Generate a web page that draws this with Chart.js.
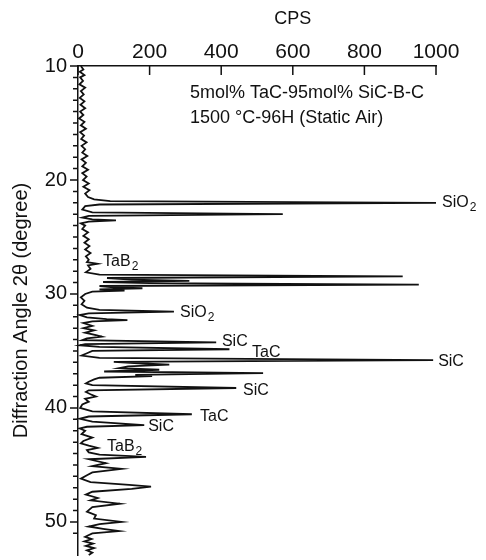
<!DOCTYPE html>
<html>
<head>
<meta charset="utf-8">
<script src="https://cdn.jsdelivr.net/npm/chart.js@4/dist/chart.umd.min.js"></script>
<style>
  html, body { margin: 0; padding: 0; background: #fff; }
  canvas { display: block; }
</style>
</head>
<body>
<canvas id="grafico" width="486" height="560"></canvas>
<script>
// Difractograma girado: 2θ en vertical (hacia abajo), CPS en horizontal.

// Ángulo 2θ (grados) de cada punto del trazo, de arriba abajo.
const angulos = [
  10.0, 10.3, 10.5, 10.8, 11.0, 11.3, 11.6, 11.9, 12.2, 12.5,
  12.8, 13.1, 13.4, 13.7, 14.0, 14.3, 14.6, 14.9, 15.2, 15.5,
  15.8, 16.1, 16.4, 16.7, 17.0, 17.3, 17.6, 17.9, 18.2, 18.5,
  18.8, 19.1, 19.4, 19.7, 20.0, 20.3, 20.6, 20.9, 21.2, 21.5,
  21.7, 21.85, 22.0, 22.15, 22.3, 22.6, 22.85, 23.0, 23.15, 23.3,
  23.45, 23.55, 23.65, 23.8, 24.0, 24.3, 24.6, 24.9, 25.2, 25.5,
  25.8, 26.1, 26.4, 26.7, 27.0, 27.2, 27.35, 27.5, 27.8, 28.1,
  28.3, 28.45, 28.6, 28.75, 28.85, 28.95, 29.05, 29.18, 29.3, 29.42,
  29.5, 29.6, 29.7, 29.8, 30.0, 30.3, 30.6, 30.9, 31.2, 31.4,
  31.55, 31.7, 31.85, 32.05, 32.2, 32.3, 32.4, 32.55, 32.8, 33.0,
  33.2, 33.4, 33.6, 33.75, 33.9, 34.05, 34.24, 34.4, 34.5, 34.65,
  34.85, 35.0, 35.2, 35.4, 35.6, 35.8, 35.95, 36.1, 36.2, 36.35,
  36.5, 36.65, 36.8, 36.95, 37.1, 37.2, 37.35, 37.5, 37.7, 37.85,
  38.0, 38.25, 38.45, 38.6, 38.8, 39.0, 39.2, 39.45, 39.7, 40.0,
  40.3, 40.55, 40.75, 40.95, 41.2, 41.5, 41.65, 41.8, 42.0, 42.3,
  42.6, 42.9, 43.1, 43.3, 43.5, 43.7, 43.9, 44.1, 44.3, 44.5,
  44.85, 45.1, 45.35, 45.65, 45.9, 46.2, 46.5, 46.75, 46.9, 47.1,
  47.35, 47.6, 47.9, 48.1, 48.4, 48.7, 49.1, 49.4, 49.7, 50.0,
  50.2, 50.4, 50.6, 50.8, 51.0, 51.3, 51.5, 51.7, 51.9, 52.1,
  52.3, 52.5, 52.7, 52.9,
];

// Intensidad (CPS) en cada ángulo.
const cps = [
  8, 15, 5, 18, 6, 14, 4, 20, 8, 16,
  5, 18, 7, 20, 6, 15, 3, 18, 8, 22,
  6, 17, 9, 24, 10, 20, 12, 26, 10, 22,
  12, 28, 12, 24, 14, 30, 15, 32, 20, 28,
  45, 90, 1000, 60, 20, 12, 40, 572, 30, 12,
  40, 106, 30, 8, 20, 12, 28, 15, 30, 18,
  32, 20, 35, 22, 30, 25, 55, 28, 35, 22,
  60, 907, 81, 150, 311, 70, 200, 952, 60, 100,
  180, 60, 130, 40, 20, 8, 18, 10, 25, 60,
  268, 30, 5, 25, 80, 138, 40, 15, 40, 15,
  45, 20, 50, 67, 25, 12, 386, 20, 5, 60,
  423, 40, 25, 10, 60, 992, 100, 180, 255, 140,
  115, 227, 73, 517, 160, 207, 60, 45, 30, 22,
  40, 442, 30, 22, 35, 50, 20, 30, 12, 6,
  40, 318, 30, 5, 40, 185, 25, 5, 20, 10,
  40, 15, 8, 30, 55, 25, 30, 60, 190, 30,
  78, 40, 122, 40, 25, 8, 35, 143, 204, 150,
  40, 22, 55, 35, 117, 40, 25, 50, 45, 122,
  60, 30, 70, 115, 40, 20, 38, 18, 42, 22,
  45, 25, 40, 30,
];

// Marcas de los ejes.
const ticksCps = [0, 200, 400, 600, 800, 1000];
const ticksAngulo = [10, 20, 30, 40, 50];

// Fases identificadas: texto, subíndice y dónde va la etiqueta (CPS, 2θ).
const fasesTexto = ["SiO", "TaB", "SiO", "SiC", "TaC", "SiC", "SiC", "TaC", "SiC", "TaB"];
const fasesSub = ["2", "2", "2", "", "", "", "", "", "", "2"];
const fasesCps = [1017, 70, 285, 402, 486, 1006, 461, 341, 196, 81];
const fasesAngulo = [22.0, 27.2, 31.65, 34.2, 35.1, 35.95, 38.5, 40.8, 41.65, 43.4];

const muestra = ["5mol% TaC-95mol% SiC-B-C", "1500 °C-96H (Static Air)"];

const FUENTE = "'Liberation Sans', Arial, sans-serif";
const NEGRO = "#111";

// Marcas de eje, título CPS y etiquetas de fases.
const anotaciones = {
  id: "anotaciones",
  afterDraw(chart) {
    const { ctx } = chart;
    const x = chart.scales.x;
    const y = chart.scales.y;
    ctx.save();
    ctx.strokeStyle = NEGRO;
    ctx.lineWidth = 1.5;
    ctx.beginPath();
    // eje superior: marcas hacia dentro
    for (const t of x.ticks) {
      const px = x.getPixelForValue(t.value);
      ctx.moveTo(px, y.top);
      ctx.lineTo(px, y.top + 9);
    }
    // eje izquierdo: marcas hacia fuera, cada grado
    for (const t of y.ticks) {
      if (!Number.isInteger(t.value)) continue;
      const py = y.getPixelForValue(t.value);
      const largo = t.value % 10 === 0 ? 8 : 5;
      ctx.moveTo(x.left - largo, py);
      ctx.lineTo(x.left, py);
    }
    ctx.stroke();

    ctx.fillStyle = NEGRO;
    ctx.textBaseline = "middle";
    ctx.font = "18px " + FUENTE;
    ctx.textAlign = "center";
    ctx.fillText("CPS", x.getPixelForValue(600), 19);

    ctx.textAlign = "left";
    ctx.fillText(muestra[0], x.getPixelForValue(313), y.getPixelForValue(12.37));
    ctx.fillText(muestra[1], x.getPixelForValue(313), y.getPixelForValue(14.56));

    for (let i = 0; i < fasesTexto.length; i++) {
      const px = x.getPixelForValue(fasesCps[i]);
      const py = y.getPixelForValue(fasesAngulo[i]);
      ctx.font = "16px " + FUENTE;
      ctx.fillText(fasesTexto[i], px, py);
      if (fasesSub[i]) {
        const w = ctx.measureText(fasesTexto[i]).width;
        ctx.font = "12px " + FUENTE;
        ctx.fillText(fasesSub[i], px + w + 1, py + 5);
      }
    }
    ctx.restore();
  },
};

const fondoBlanco = {
  id: "fondoBlanco",
  beforeDraw(chart) {
    const { ctx } = chart;
    ctx.save();
    ctx.fillStyle = "#fff";
    ctx.fillRect(0, 0, chart.width, chart.height);
    ctx.restore();
  },
};

Chart.defaults.color = NEGRO;
Chart.defaults.font.family = FUENTE;

new Chart(document.getElementById("grafico"), {
  type: "line",
  data: {
    datasets: [{
      data: angulos.map((a, i) => ({ x: cps[i], y: a })),
      borderColor: NEGRO,
      borderWidth: 1.8,
      pointRadius: 0,
      tension: 0,
      fill: false,
      clip: false,
    }],
  },
  options: {
    responsive: false,
    animation: false,
    layout: { padding: { left: 0, top: 0, right: 50, bottom: 5 } },
    plugins: {
      legend: { display: false },
      tooltip: { enabled: false },
    },
    scales: {
      x: {
        type: "linear",
        position: "top",
        min: 0,
        max: 1000,
        afterBuildTicks: (s) => { s.ticks = ticksCps.map((v) => ({ value: v })); },
        afterFit: (s) => { s.height = 66; },
        grid: { display: false, drawTicks: false },
        border: { display: true, color: NEGRO, width: 1.5 },
        ticks: {
          font: { size: 21 },
          padding: 1,
          color: NEGRO,
          callback: (v) => String(v),
        },
      },
      y: {
        type: "linear",
        reverse: true,
        min: 10,
        max: 52.9,
        // ancho fijo y sin reservar hueco extra para las etiquetas extremas
        afterFit: (s) => { s.width = 78; s.paddingTop = 0; s.paddingBottom = 0; },
        grid: { display: false, drawTicks: false },
        border: { display: true, color: NEGRO, width: 1.5 },
        ticks: {
          stepSize: 1,
          autoSkip: false,
          font: { size: 20 },
          padding: 11,
          color: NEGRO,
          callback: (v) => (ticksAngulo.includes(v) ? String(v) : ""),
        },
        title: {
          display: true,
          text: "Diffraction Angle 2θ (degree)",
          font: { size: 20 },
          color: NEGRO,
          padding: { top: 9, bottom: 0 },
        },
      },
    },
  },
  plugins: [fondoBlanco, anotaciones],
});
</script>
</body>
</html>
